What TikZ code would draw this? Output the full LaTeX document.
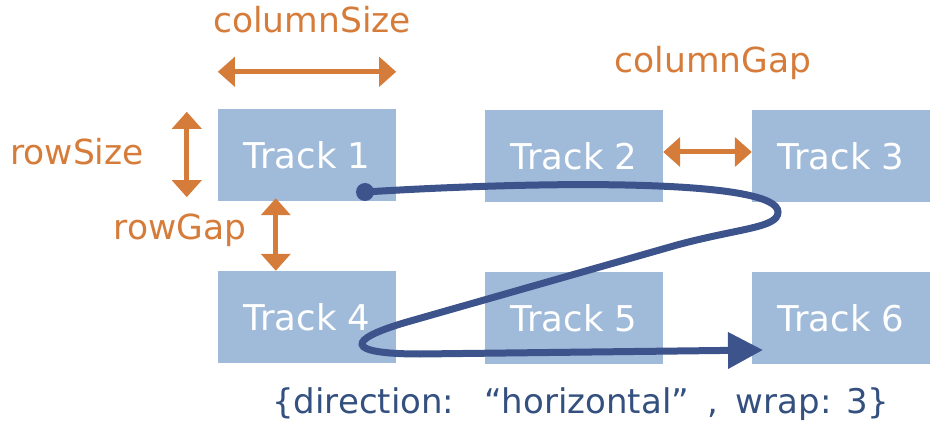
\documentclass[tikz,border=0pt]{standalone}
\usepackage{fontspec}
\setmainfont{DejaVu Sans}
\usetikzlibrary{arrows.meta}
\definecolor{dimorange}{HTML}{D67C3A}
\definecolor{trackblue}{HTML}{A0BADA}
\definecolor{flowblue}{HTML}{3D538C}
\definecolor{textblue}{HTML}{34507F}
\tikzset{
  track/.style={fill=trackblue, minimum width=178pt, minimum height=92pt, inner sep=0pt,
    text=white, font=\fontsize{35.5}{42}\selectfont},
  dimarrow/.style={draw=dimorange, line width=5pt, {Triangle[length=17pt,width=29pt]}-{Triangle[length=17pt,width=29pt]}},
  dimlabel/.style={text=dimorange, anchor=base, inner sep=0pt, font=\fontsize{34.5}{40}\selectfont},
  flow/.style={draw=flowblue, line width=7pt, -{Triangle[length=35pt,width=35pt]}}
}
\begin{document}
\begin{tikzpicture}[x=1pt,y=-1pt]
\useasboundingbox (0,0) rectangle (949,435);
% tracks
\foreach \i/\x/\y in {1/307/155, 2/574/156, 3/841/156, 4/307/317, 5/574/318, 6/841/318}{
  \node[track] (t\i) at (\x,\y) {Track \i};
}
% dimension arrows
\draw[dimarrow] ([yshift=37pt]t1.north west) -- ([yshift=37pt]t1.north east);
\draw[dimarrow] ([xshift=-31pt,yshift=-3pt]t1.north west) -- ([xshift=-31pt,yshift=4pt]t1.south west);
\draw[dimarrow] ([xshift=58pt,yshift=3pt]t1.south west) -- ([xshift=58pt]t4.north west);
\draw[dimarrow] ([yshift=4pt]t2.east) -- ([yshift=4pt]t3.west);
% labels
\node[dimlabel] (colsize) at (312,33) {columnSize};
\node[dimlabel] (colgap) at (713,73) {columnGap};
\node[dimlabel] (rowsize) at (77,165) {rowSize};
\node[dimlabel] (rowgap) at (180,240) {rowGap};
% flow
\node[circle, fill=flowblue, inner sep=0pt, minimum size=18pt] (start) at (365,192) {};
\coordinate (stop) at (763,350);
\draw[flow] (start.center) .. controls (560,180) and (778,180) .. (778,212)
  .. controls (778,228) and (740,228) .. (677,245) -- (407,322)
  .. controls (345,340) and (345,354) .. (420,354) -- (stop);
% caption
\node[text=textblue, anchor=base west, inner sep=0pt, font=\fontsize{34}{40}\selectfont] (caption) at (272,413)
  {\{direction:\hspace{30pt}“horizontal”\hspace{18pt},\hspace{18pt}wrap: 3\}};
\end{tikzpicture}
\end{document}
